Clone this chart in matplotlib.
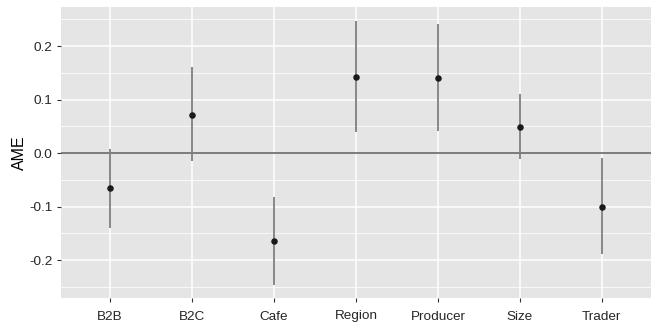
import matplotlib
matplotlib.use("Agg")
import matplotlib.pyplot as plt
from matplotlib.ticker import MultipleLocator

plt.rcParams['font.family'] = ['Liberation Sans', 'DejaVu Sans']

terms = ["B2B", "B2C", "Cafe", "Region", "Producer", "Size", "Trader"]
ame = [-0.066, 0.072, -0.164, 0.143, 0.140, 0.049, -0.100]
lower = [-0.140, -0.014, -0.246, 0.039, 0.042, -0.012, -0.189]
upper = [0.007, 0.161, -0.082, 0.247, 0.241, 0.111, -0.010]

fig = plt.figure(figsize=(6.54, 3.27), dpi=100)
ax = fig.add_axes([61 / 654, 29 / 327, 590 / 654, 291 / 327])
ax.set_facecolor('#e5e5e5')

x = list(range(len(terms)))
ax.axhline(0, color='#5a5a5a', lw=1.1, zorder=2)
ax.vlines(x, lower, upper, color='#7f7f7f', lw=1.3, zorder=3)
ax.scatter(x, ame, s=22, color='#1a1a1a', zorder=4, linewidths=0)

ax.set_xlim(-0.6, 6.6)
ax.set_ylim(-0.271, 0.273)
ax.set_xticks(x)
ax.set_xticklabels(terms)
ax.yaxis.set_major_locator(MultipleLocator(0.1))
ax.yaxis.set_minor_locator(MultipleLocator(0.05))
ax.set_yticks([-0.2, -0.1, 0.0, 0.1, 0.2])
ax.set_yticklabels(['-0.2', '-0.1', '0.0', '0.1', '0.2'])

ax.grid(which='major', color='white', lw=1.1)
ax.grid(which='minor', axis='y', color='white', lw=0.55)
ax.set_axisbelow(True)
for s in ax.spines.values():
    s.set_visible(False)
ax.tick_params(which='major', length=3, color='#333333', width=0.8,
               labelsize=9.7, labelcolor='#262626', pad=3)
ax.tick_params(axis='x', pad=6)
ax.tick_params(which='minor', length=0)
ax.set_ylabel('AME', fontsize=11.5, color='black', labelpad=2)

fig.savefig('out.png', dpi=100)
